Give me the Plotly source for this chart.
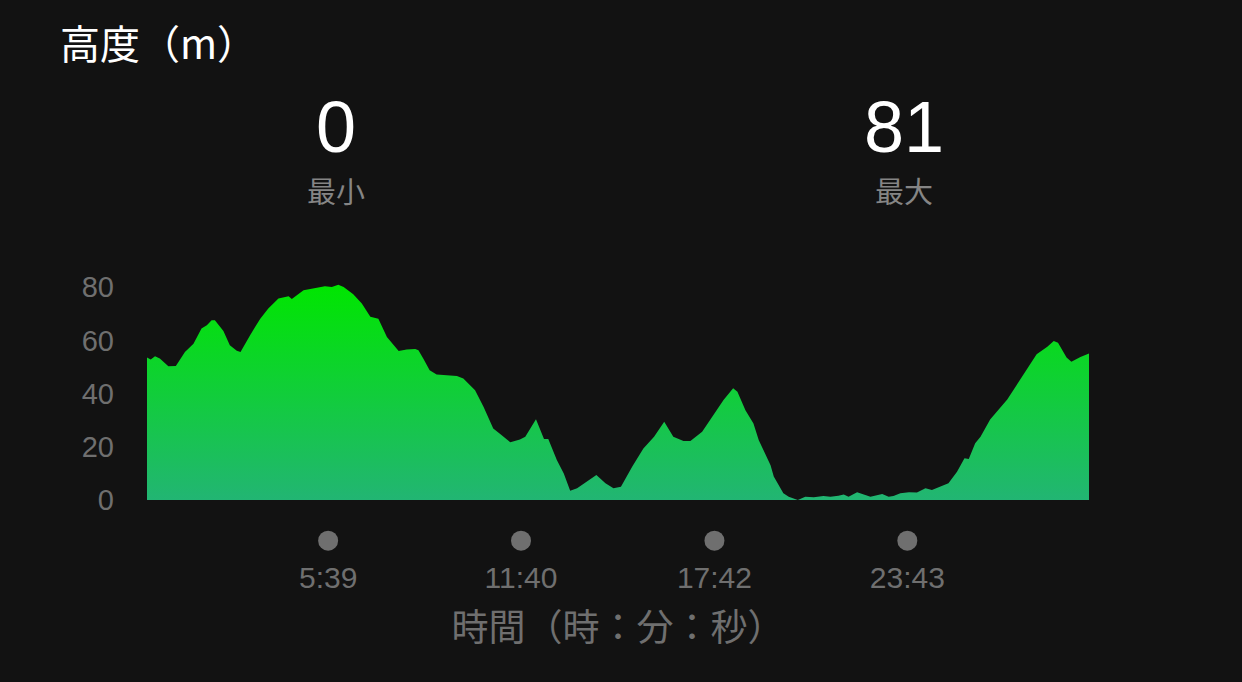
import plotly.graph_objects as go

# Elapsed time (seconds) and altitude (m).
seconds = [0, 7, 15, 24, 40, 54, 71, 87, 102, 112, 121, 127, 143, 155, 168, 175,
           193, 212, 227, 246, 265, 271, 293, 311, 333, 346, 358, 368, 386, 402,
           418, 433, 449, 471, 486, 502, 508, 517, 529, 542, 558, 580, 592, 614,
           630, 648, 661, 680, 698, 708, 728, 743, 751, 767, 780, 792, 805, 823,
           841, 858, 873, 887, 908, 929, 949, 968, 985, 1004, 1017, 1039, 1060,
           1079, 1097, 1105, 1120, 1135, 1145, 1157, 1167, 1173, 1191, 1201,
           1218, 1232, 1248, 1266, 1279, 1294, 1304, 1313, 1329, 1354, 1376,
           1388, 1397, 1410, 1426, 1441, 1457, 1469, 1491, 1500, 1516, 1530,
           1538, 1550, 1560, 1578, 1610, 1635, 1665, 1685, 1697, 1705, 1721,
           1730, 1747, 1763]
altitude = [53.6, 52.8, 54.1, 53.2, 50.3, 50.4, 55.7, 58.8, 64.5, 65.7, 67.6, 67.6,
            63.6, 58.2, 56.1, 55.7, 62.0, 68.2, 72.0, 75.8, 76.6, 75.6, 78.9, 79.5,
            80.4, 80.1, 81.0, 80.1, 77.4, 73.9, 68.9, 68.2, 61.3, 56.0, 56.6, 56.8,
            56.3, 53.2, 48.8, 47.2, 46.9, 46.6, 45.7, 41.3, 35.0, 26.9, 24.8, 21.7,
            22.8, 23.8, 30.4, 22.9, 22.9, 15.0, 10.0, 3.5, 4.4, 6.9, 9.4, 6.3, 4.4,
            5.0, 12.5, 19.4, 23.8, 29.4, 23.8, 22.2, 22.2, 25.7, 31.9, 37.6, 42.0,
            40.7, 33.8, 28.8, 22.5, 17.5, 13.1, 8.8, 2.5, 1.2, 0.0, 1.2, 1.0, 1.5,
            1.2, 1.6, 2.1, 1.2, 2.9, 1.2, 2.3, 1.2, 1.5, 2.5, 2.9, 2.8, 4.4, 3.8,
            5.4, 6.3, 10.6, 15.7, 15.4, 21.3, 23.8, 30.3, 37.8, 45.7, 54.8, 57.6,
            59.8, 59.1, 53.6, 52.0, 53.8, 55.1]

tick_seconds = [339, 700, 1062, 1423]
tick_labels = ['5:39', '11:40', '17:42', '23:43']
y_ticks = [0, 20, 40, 60, 80]

BG = '#121212'
GREY = '#6f6f6f'
FONT = 'Liberation Sans, Noto Sans CJK JP'
CJK = 'Noto Sans CJK JP'

fig = go.Figure()
fig.add_trace(go.Scatter(
    x=seconds, y=altitude, mode='lines', fill='tozeroy',
    line=dict(width=0, color='#10d040'),
    fillgradient=dict(type='vertical', start=0, stop=81,
                      colorscale=[[0, '#22b573'], [1, '#00e600']]),
    hoverinfo='skip', showlegend=False,
))

# Grey dots above each time label.
for t in tick_seconds:
    fig.add_shape(type='circle', xref='x', yref='paper',
                  xsizemode='pixel', ysizemode='pixel',
                  xanchor=t, yanchor=-0.18, x0=-10, x1=10, y0=-10, y1=10,
                  fillcolor=GREY, line_width=0)

# Min / max summary above the chart.
low = round(min(altitude))
high = round(max(altitude))
stats = [(low, '最小', 0.2006), (high, '最大', 0.804)]
for value, label, xpos in stats:
    fig.add_annotation(text=str(value), x=xpos, y=1.652, xref='paper', yref='paper',
                       xanchor='center', yanchor='middle', showarrow=False,
                       font=dict(family=FONT, size=72, color='white'))
    fig.add_annotation(text=label, x=xpos, y=1.372, xref='paper', yref='paper',
                       xanchor='center', yanchor='middle', showarrow=False,
                       font=dict(family=CJK, size=29, color='#858585'))

fig.add_annotation(text='高度（m）', x=-0.095, y=2.026, xref='paper', yref='paper',
                   xanchor='left', yanchor='middle', showarrow=False,
                   font=dict(family=CJK, size=40, color='white'))

fig.update_layout(
    width=1242, height=682,
    margin=dict(l=147, r=153, t=274, b=182),
    paper_bgcolor=BG, plot_bgcolor=BG,
    font=dict(family=FONT, color=GREY),
    xaxis=dict(range=[0, 1763], showgrid=False, zeroline=False, showline=False,
               tickvals=tick_seconds, ticktext=tick_labels,
               tickfont=dict(size=30, color=GREY), ticks='',
               ticklabelstandoff=57,
               title=dict(text='時間（時：分：秒）', standoff=22,
                          font=dict(family=CJK, size=37, color=GREY))),
    yaxis=dict(range=[0, 85], showgrid=False, zeroline=False, showline=False,
               tickvals=y_ticks, tickfont=dict(size=29, color=GREY), ticks='',
               ticklabelstandoff=32),
)

fig.write_html('out.html', config={'displayModeBar': False},
               post_script="document.body.style.margin='0';"
                           "document.body.style.background='#121212';")
